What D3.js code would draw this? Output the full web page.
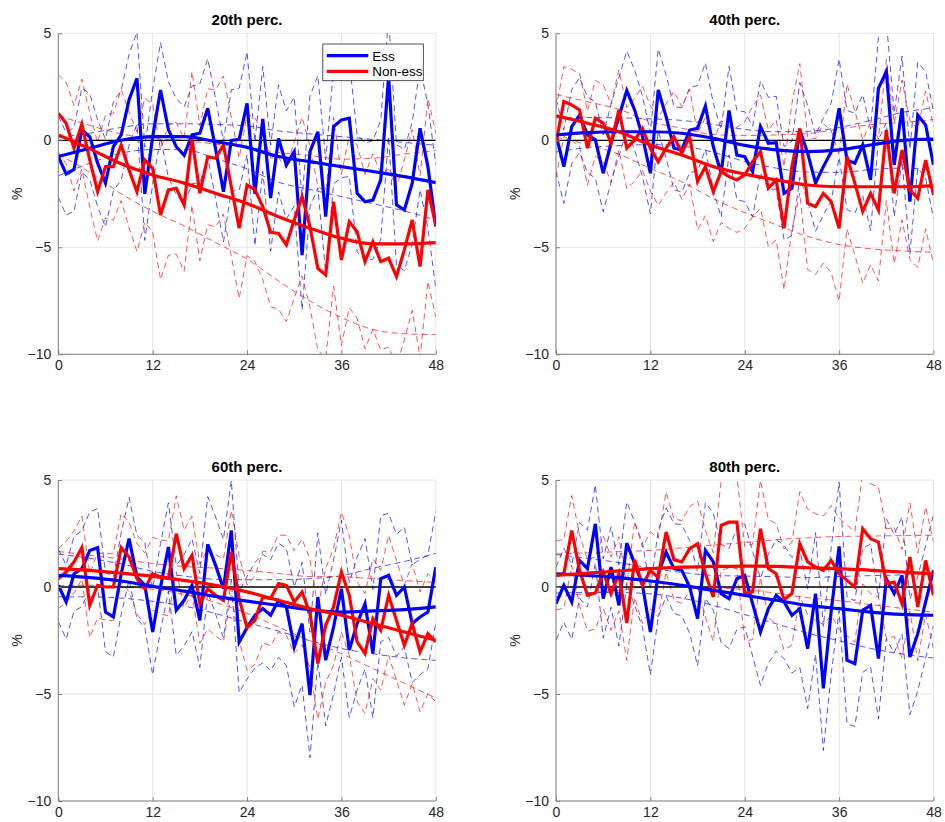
<!DOCTYPE html>
<html><head><meta charset="utf-8">
<script src="https://cdn.jsdelivr.net/npm/d3@7"></script>
<style>body{margin:0;background:#fff}svg{display:block;font-family:"Liberation Sans",Arial,Helvetica,sans-serif}</style>
</head><body><svg id="c" width="945" height="822"></svg>
<script>
// ---------- data ----------
const panelTitles = ["20th perc.", "40th perc.", "60th perc.", "80th perc."];
const seriesNames = ["Ess", "Non-ess"];
const horizon = d3.range(0, 49);          // months 0..48
const smoothKnots = d3.range(0, 49, 4);   // 0,4,...,48
const bandKnots = [0, 12, 24, 36, 48];
const xTicks = [0, 12, 24, 36, 48];
const yTicks = [-10, -5, 0, 5];

// 20th percentile
const essRaw20 = [-0.76,-1.57,-1.36,0.48,0.17,-1.07,-2.0,-0.3,0.25,1.9,2.9,-2.5,0.17,2.35,0.5,-0.3,-0.7,0.25,0.33,1.5,-0.4,-2.4,0.0,0.05,1.73,-2.5,1.0,-2.7,0.09,-1.15,-0.53,-5.36,-0.53,0.4,-3.57,0.64,0.95,1.03,-2.48,-2.87,-2.79,-1.85,2.97,-3.02,-3.26,-2.0,0.56,-1.23,-4.03];
const nonRaw20 = [1.26,0.8,-0.37,0.76,-0.92,-2.4,-1.23,-1.23,-0.22,-1.39,-2.4,-0.92,-1.31,-3.49,-2.32,-2.24,-3.02,0.09,-2.48,-0.77,-0.84,-0.22,-2.17,-4.11,-2.09,-2.3,-3.1,-4.3,-4.35,-4.89,-3.72,-2.63,-4.03,-5.98,-6.29,-2.87,-5.59,-3.8,-4.27,-5.67,-4.74,-5.67,-5.51,-6.37,-5.12,-3.72,-5.9,-2.32,-3.96];
const essSmooth20 = [-0.76,-0.37,0.0,0.17,0.17,-0.06,-0.33,-0.76,-1.0,-1.23,-1.46,-1.7,-1.98];
const nonSmooth20 = [0.25,-0.4,-1.1,-1.62,-2.0,-2.48,-2.95,-3.57,-4.11,-4.58,-4.84,-4.84,-4.78];
const essSmoothCI20 = [0.9,0.7,0.6,0.6,0.6,0.8,1.0,1.2,1.3,1.4,1.5,1.6,1.75];
const nonSmoothCI20 = [0.9,1.1,1.4,1.7,2.0,2.3,2.6,3.0,3.4,3.7,4.0,4.2,4.3];
const essRawCI20 = [1.9,2.2,2.4,2.7,2.9];
const nonRawCI20 = [1.8,3.0,3.3,4.0,4.3];

// 40th percentile
const essRaw40 = [0.25,-1.23,0.64,1.18,0.25,0.02,-1.54,-0.14,1.1,2.32,1.42,0.17,-1.54,2.35,1.11,-0.37,-0.45,0.48,0.56,1.6,-0.3,-1.54,1.39,-0.69,-0.77,-1.46,0.64,-0.14,-0.11,-2.48,-2.24,0.48,-0.6,-2.0,-1.23,-0.53,1.5,-0.92,-1.07,-0.22,-1.85,2.43,3.21,-1.15,1.5,-2.87,1.18,0.72,-1.15];
const nonRaw40 = [-0.14,1.81,1.65,1.42,-0.37,1.03,0.8,-0.14,1.42,-0.37,0.02,0.56,-0.37,-1.0,-0.37,0.17,-0.6,0.17,-1.93,-1.23,-2.4,-1.46,-1.7,-1.85,-1.62,-1.0,-0.53,-2.24,-1.85,-4.11,-1.23,0.56,-2.94,-3.1,-2.48,-2.87,-4.11,-0.76,-2.0,-3.33,-2.48,-3.26,0.48,-2.48,-0.45,-2.32,-2.71,-0.92,-2.55];
const essSmooth40 = [0.25,0.36,0.4,0.4,0.33,0.09,-0.24,-0.45,-0.53,-0.45,-0.22,0.0,0.06];
const nonSmooth40 = [1.14,0.8,0.4,-0.22,-0.69,-1.23,-1.58,-1.85,-2.09,-2.17,-2.17,-2.17,-2.13];
const essSmoothCI40 = [0.8,0.7,0.65,0.6,0.6,0.65,0.75,0.85,0.95,1.05,1.15,1.3,1.45];
const nonSmoothCI40 = [1.0,1.0,1.05,1.1,1.25,1.5,1.8,2.1,2.4,2.7,2.9,3.0,3.1];
const essRawCI40 = [1.7,1.9,2.1,2.3,2.5];
const nonRawCI40 = [1.6,2.0,2.5,3.4,3.2];

// 60th percentile
const essRaw60 = [0.08,-0.7,0.62,0.86,1.71,1.84,-1.17,-1.4,0.62,2.26,0.47,0.08,-2.1,0.0,1.87,-1.09,-0.62,0.08,-1.56,1.99,1.01,-0.08,2.64,-2.57,-1.9,-1.32,-1.01,-1.32,-0.62,-0.93,-2.8,-1.71,-5.05,-0.47,-3.42,-1.87,-0.08,-2.95,-1.71,-0.78,-3.11,0.39,0.54,-0.39,0.0,-1.71,-1.4,-1.17,0.93];
const nonRaw60 = [0.39,0.7,1.17,1.84,-0.86,0.08,0.0,0.0,1.84,1.4,0.39,-0.08,0.62,0.47,0.4,2.49,0.86,1.48,-0.78,-0.08,-0.39,-0.62,1.63,-0.54,-1.9,-1.56,-0.47,-0.54,0.16,0.08,-0.7,-0.23,-1.24,-3.58,-1.79,-0.93,0.7,-0.39,-2.57,-3.11,-1.48,-2.02,-0.39,-1.56,-2.72,-1.71,-3.03,-2.18,-2.57];
const essSmooth60 = [0.54,0.44,0.28,0.03,-0.19,-0.44,-0.66,-0.86,-1.06,-1.17,-1.12,-1.06,-0.93];
const nonSmooth60 = [0.86,0.78,0.65,0.5,0.31,0.08,-0.23,-0.62,-1.01,-1.32,-1.71,-2.1,-2.49];
const essSmoothCI60 = [1.0,0.9,0.8,0.7,0.7,0.8,1.0,1.2,1.45,1.7,2.0,2.25,2.5];
const nonSmoothCI60 = [0.8,0.7,0.65,0.6,0.65,0.8,1.0,1.25,1.5,1.8,2.1,2.4,2.7];
const essRawCI60 = [1.7,2.0,2.4,3.2,2.6];
const nonRawCI60 = [1.4,1.7,2.0,2.8,2.8];

// 80th percentile
const essRaw80 = [-0.78,0.08,-0.7,1.24,0.86,2.95,-0.54,0.93,-0.86,2.05,1.09,0.08,-2.1,0.62,1.63,0.86,0.78,0.0,-1.48,1.71,1.17,-0.31,-0.54,0.39,0.54,-0.78,-2.1,-1.01,-0.39,-0.7,-1.32,-1.01,-2.88,-0.31,-4.74,-1.09,1.9,-3.42,-3.58,-1.09,-0.86,-3.34,0.39,-0.31,0.54,-3.27,-2.18,-0.7,0.78];
const nonRaw80 = [0.54,0.62,2.64,0.78,-0.39,-0.28,0.7,-0.31,0.62,-1.68,1.28,0.08,0.78,0.44,2.57,1.28,1.17,1.79,2.02,0.62,-0.47,2.88,3.03,3.03,-0.31,-0.23,2.72,0.86,0.62,-0.59,-0.31,2.02,1.17,0.93,0.78,1.24,0.62,0.31,0.0,2.72,2.26,2.1,0.16,0.23,-0.78,1.4,-0.93,1.24,-0.39];
const essSmooth80 = [0.62,0.54,0.44,0.28,0.08,-0.16,-0.39,-0.62,-0.86,-1.01,-1.17,-1.28,-1.32];
const nonSmooth80 = [0.54,0.65,0.75,0.86,0.93,0.96,0.98,0.96,0.9,0.86,0.78,0.7,0.62];
const essSmoothCI80 = [0.9,0.8,0.7,0.6,0.6,0.7,0.9,1.1,1.3,1.5,1.7,1.85,2.0];
const nonSmoothCI80 = [1.0,0.95,0.9,0.85,0.9,1.0,1.1,1.25,1.4,1.5,1.6,1.7,1.8];
const essRawCI80 = [1.7,2.0,2.4,3.0,2.6];
const nonRawCI80 = [1.6,1.8,2.2,2.6,2.5];

const panels = [
  {title: panelTitles[0], essRaw: essRaw20, nonRaw: nonRaw20, essSm: essSmooth20, nonSm: nonSmooth20, essSmCI: essSmoothCI20, nonSmCI: nonSmoothCI20, essRawCI: essRawCI20, nonRawCI: nonRawCI20, legend: true},
  {title: panelTitles[1], essRaw: essRaw40, nonRaw: nonRaw40, essSm: essSmooth40, nonSm: nonSmooth40, essSmCI: essSmoothCI40, nonSmCI: nonSmoothCI40, essRawCI: essRawCI40, nonRawCI: nonRawCI40},
  {title: panelTitles[2], essRaw: essRaw60, nonRaw: nonRaw60, essSm: essSmooth60, nonSm: nonSmooth60, essSmCI: essSmoothCI60, nonSmCI: nonSmoothCI60, essRawCI: essRawCI60, nonRawCI: nonRawCI60},
  {title: panelTitles[3], essRaw: essRaw80, nonRaw: nonRaw80, essSm: essSmooth80, nonSm: nonSmooth80, essSmCI: essSmoothCI80, nonSmCI: nonSmoothCI80, essRawCI: essRawCI80, nonRawCI: nonRawCI80}
];

// ---------- layout / style ----------
const layout = [{x: 58.3, y: 33.3}, {x: 556, y: 33.3}, {x: 58.3, y: 480}, {x: 556, y: 480}];
const pw = 377.5, ph = 321;
const BLUE = "#0000ff", RED = "#ff0000";

const svg = d3.select("#c");

panels.forEach((p, i) => {
  const L = layout[i];
  const g = svg.append("g").attr("transform", `translate(${L.x},${L.y})`);
  const x = d3.scaleLinear().domain([0, 48]).range([0, pw]);
  const y = d3.scaleLinear().domain([-10, 5]).range([ph, 0]);

  const clipId = "clip" + i;
  g.append("clipPath").attr("id", clipId).append("rect").attr("x", 0).attr("y", 0).attr("width", pw).attr("height", ph);

  // grid
  g.append("g").selectAll("line").data(xTicks).join("line")
    .attr("x1", d => x(d)).attr("x2", d => x(d)).attr("y1", 0).attr("y2", ph)
    .attr("stroke", "#e6e6e6").attr("stroke-width", 1);
  g.append("g").selectAll("line").data(yTicks).join("line")
    .attr("x1", 0).attr("x2", pw).attr("y1", d => y(d)).attr("y2", d => y(d))
    .attr("stroke", "#e6e6e6").attr("stroke-width", 1);

  const plot = g.append("g").attr("clip-path", `url(#${clipId})`);
  const rawLine = d3.line().x(d => x(d[0])).y(d => y(d[1]));
  const smLine = d3.line().x(d => x(d[0])).y(d => y(d[1])).curve(d3.curveMonotoneX);

  function dashed(pts, color, gen) {
    plot.append("path").attr("d", gen(pts)).attr("fill", "none")
      .attr("stroke", color).attr("stroke-width", 0.9).attr("stroke-opacity", 0.75)
      .attr("stroke-dasharray", "6,4");
  }
  // raw bands
  [[p.essRaw, p.essRawCI, BLUE], [p.nonRaw, p.nonRawCI, RED]].forEach(([raw, ci, col]) => {
    const hw = d3.scaleLinear().domain(bandKnots).range(ci);
    dashed(horizon.map(t => [t, raw[t] + hw(t)]), col, rawLine);
    dashed(horizon.map(t => [t, raw[t] - hw(t)]), col, rawLine);
  });
  // smooth bands
  [[p.essSm, p.essSmCI, BLUE], [p.nonSm, p.nonSmCI, RED]].forEach(([sm, ci, col]) => {
    dashed(smoothKnots.map((t, k) => [t, sm[k] + ci[k]]), col, smLine);
    dashed(smoothKnots.map((t, k) => [t, sm[k] - ci[k]]), col, smLine);
  });

  // zero line
  plot.append("line").attr("x1", x(0)).attr("x2", x(48)).attr("y1", y(0)).attr("y2", y(0))
    .attr("stroke", "#000").attr("stroke-width", 1.3);

  // raw thick
  plot.append("path").attr("d", rawLine(horizon.map(t => [t, p.essRaw[t]])))
    .attr("fill", "none").attr("stroke", BLUE).attr("stroke-width", 3.2).attr("stroke-linejoin", "miter");
  plot.append("path").attr("d", rawLine(horizon.map(t => [t, p.nonRaw[t]])))
    .attr("fill", "none").attr("stroke", RED).attr("stroke-width", 3.2).attr("stroke-linejoin", "miter");
  // smooth thick
  plot.append("path").attr("d", smLine(smoothKnots.map((t, k) => [t, p.essSm[k]])))
    .attr("fill", "none").attr("stroke", BLUE).attr("stroke-width", 3.2);
  plot.append("path").attr("d", smLine(smoothKnots.map((t, k) => [t, p.nonSm[k]])))
    .attr("fill", "none").attr("stroke", RED).attr("stroke-width", 3.2);

  // axes
  const xAxis = d3.axisBottom(x).tickValues(xTicks).tickSize(-4).tickPadding(6).tickFormat(d3.format("d"));
  const yAxis = d3.axisLeft(y).tickValues(yTicks).tickSize(-4).tickPadding(7).tickFormat(d3.format("d"));
  const gx = g.append("g").attr("transform", `translate(0,${ph})`).call(xAxis);
  const gy = g.append("g").call(yAxis);
  [gx, gy].forEach(a => {
    a.select(".domain").attr("stroke", "#808080").attr("stroke-width", 1);
    a.selectAll(".tick line").attr("stroke", "#808080");
    a.selectAll(".tick text").attr("fill", "#262626").style("font-size", "14px")
      .style("font-family", '"Liberation Sans",Arial,sans-serif');
  });
  gy.select(".domain").attr("d", `M0,0V${ph}`);
  gx.select(".domain").attr("d", `M0,0H${pw}`);

  // title
  g.append("text").attr("x", pw / 2).attr("y", -8).attr("text-anchor", "middle")
    .style("font-weight", "bold").style("font-size", "15px").attr("fill", "#000").text(p.title);
  // y label
  g.append("text").attr("transform", `translate(-36,${ph / 2}) rotate(-90)`)
    .attr("text-anchor", "middle").style("font-size", "14px").attr("fill", "#262626").text("%");

  // legend
  if (p.legend) {
    const lg = g.append("g").attr("transform", "translate(264.5,10.7)");
    lg.append("rect").attr("width", 100.5).attr("height", 36.7).attr("fill", "#fff")
      .attr("stroke", "#262626").attr("stroke-width", 0.8);
    [[seriesNames[0], BLUE], [seriesNames[1], RED]].forEach(([name, col], k) => {
      const yy = 11.7 + k * 15.6;
      lg.append("line").attr("x1", 4).attr("x2", 45.5).attr("y1", yy).attr("y2", yy)
        .attr("stroke", col).attr("stroke-width", 3.2);
      lg.append("text").attr("x", 49.5).attr("y", yy + 4.8).style("font-size", "13.5px")
        .attr("fill", "#000").text(name);
    });
  }
});
</script>
</body></html>
